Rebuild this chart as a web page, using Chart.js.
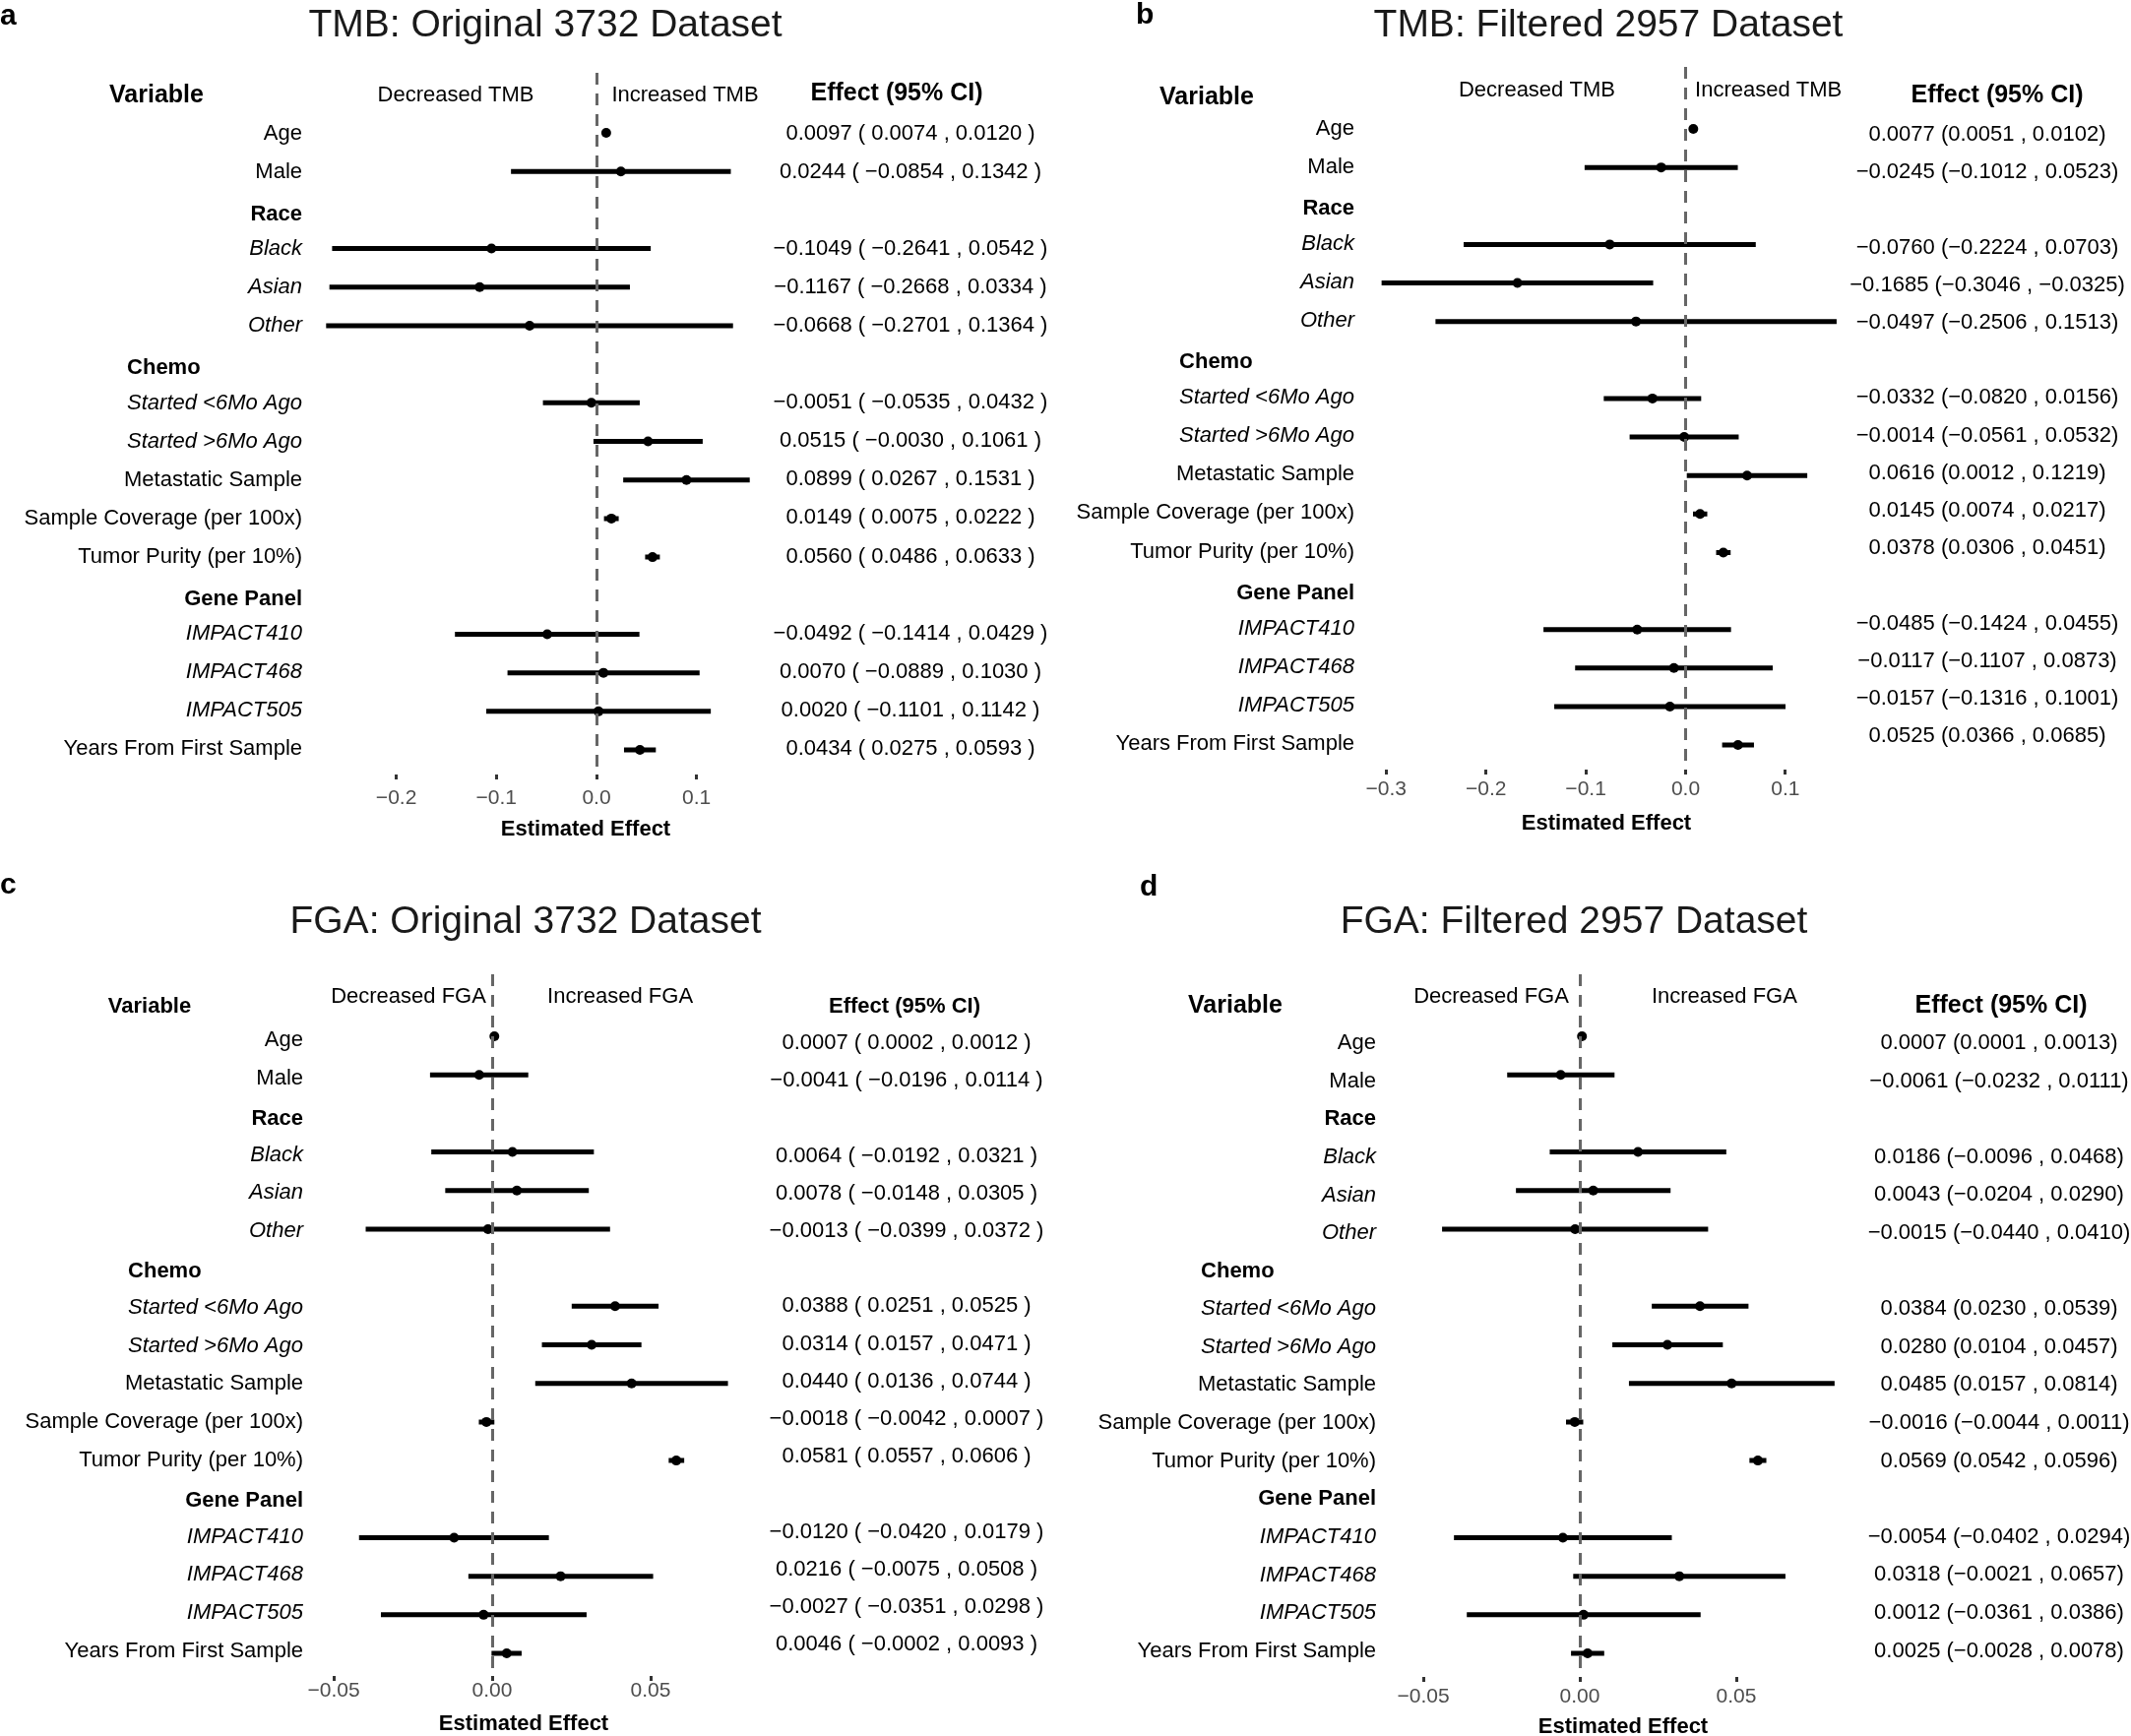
<!DOCTYPE html>
<html>
<head>
<meta charset="utf-8">
<script src="https://cdn.jsdelivr.net/npm/chart.js@4.4.0/dist/chart.umd.min.js"></script>
<style>
html,body{margin:0;padding:0;background:#fff;}
#wrap{position:relative;width:2165px;height:1764px;overflow:hidden;background:#fff;font-family:"Liberation Sans",Arial,Helvetica,sans-serif;}
.panel{position:absolute;}
.panel canvas{position:absolute;left:0;top:0;}
.letter{position:absolute;font-weight:bold;font-size:30px;line-height:1;color:#000;}
.title{position:absolute;font-size:39px;line-height:1;color:#1a1a1a;white-space:nowrap;transform:translateX(-50%);}
</style>
</head>
<body>
<div id="wrap">
  <div class="panel" style="left:0;top:0;width:1082px;height:882px;"><canvas id="cA" width="1082" height="882"></canvas></div>
  <div class="panel" style="left:1082px;top:0;width:1083px;height:882px;"><canvas id="cB" width="1083" height="882"></canvas></div>
  <div class="panel" style="left:0;top:882px;width:1082px;height:882px;"><canvas id="cC" width="1082" height="882"></canvas></div>
  <div class="panel" style="left:1082px;top:882px;width:1083px;height:882px;"><canvas id="cD" width="1083" height="882"></canvas></div>
  <div class="letter" style="left:0px;top:0px;">a</div>
  <div class="letter" style="left:1154px;top:-1px;">b</div>
  <div class="letter" style="left:0px;top:883px;">c</div>
  <div class="letter" style="left:1158px;top:885px;">d</div>
  <div class="title" id="tA" style="left:554px;top:4px;"></div>
  <div class="title" id="tB" style="left:1634px;top:4px;"></div>
  <div class="title" id="tC" style="left:534px;top:915px;"></div>
  <div class="title" id="tD" style="left:1599px;top:915px;"></div>
</div>
<script>
const FONT = '"Liberation Sans", Arial, Helvetica, sans-serif';

// ---------------- DATA ----------------
const rowLabels = ['Age', 'Male', 'Race', 'Black', 'Asian', 'Other', 'Chemo',
  'Started <6Mo Ago', 'Started >6Mo Ago', 'Metastatic Sample',
  'Sample Coverage (per 100x)', 'Tumor Purity (per 10%)', 'Gene Panel',
  'IMPACT410', 'IMPACT468', 'IMPACT505', 'Years From First Sample'];
const rowKinds = ['plain', 'plain', 'group', 'sub', 'sub', 'sub', 'group',
  'sub', 'sub', 'plain', 'plain', 'plain', 'group', 'sub', 'sub', 'sub', 'plain'];

const panelTitles = ['TMB: Original 3732 Dataset', 'TMB: Filtered 2957 Dataset',
  'FGA: Original 3732 Dataset', 'FGA: Filtered 2957 Dataset'];
const tmbDirections = ['Decreased TMB', 'Increased TMB'];
const fgaDirections = ['Decreased FGA', 'Increased FGA'];

// a: TMB original 3732
const tmbOrigEst  = [0.0097, 0.0244, null, -0.1049, -0.1167, -0.0668, null, -0.0051, 0.0515, 0.0899, 0.0149, 0.0560, null, -0.0492, 0.0070, 0.0020, 0.0434];
const tmbOrigLow  = [0.0074, -0.0854, null, -0.2641, -0.2668, -0.2701, null, -0.0535, -0.0030, 0.0267, 0.0075, 0.0486, null, -0.1414, -0.0889, -0.1101, 0.0275];
const tmbOrigHigh = [0.0120, 0.1342, null, 0.0542, 0.0334, 0.1364, null, 0.0432, 0.1061, 0.1531, 0.0222, 0.0633, null, 0.0429, 0.1030, 0.1142, 0.0593];

// b: TMB filtered 2957
const tmbFiltEst  = [0.0077, -0.0245, null, -0.0760, -0.1685, -0.0497, null, -0.0332, -0.0014, 0.0616, 0.0145, 0.0378, null, -0.0485, -0.0117, -0.0157, 0.0525];
const tmbFiltLow  = [0.0051, -0.1012, null, -0.2224, -0.3046, -0.2506, null, -0.0820, -0.0561, 0.0012, 0.0074, 0.0306, null, -0.1424, -0.1107, -0.1316, 0.0366];
const tmbFiltHigh = [0.0102, 0.0523, null, 0.0703, -0.0325, 0.1513, null, 0.0156, 0.0532, 0.1219, 0.0217, 0.0451, null, 0.0455, 0.0873, 0.1001, 0.0685];

// c: FGA original 3732
const fgaOrigEst  = [0.0007, -0.0041, null, 0.0064, 0.0078, -0.0013, null, 0.0388, 0.0314, 0.0440, -0.0018, 0.0581, null, -0.0120, 0.0216, -0.0027, 0.0046];
const fgaOrigLow  = [0.0002, -0.0196, null, -0.0192, -0.0148, -0.0399, null, 0.0251, 0.0157, 0.0136, -0.0042, 0.0557, null, -0.0420, -0.0075, -0.0351, -0.0002];
const fgaOrigHigh = [0.0012, 0.0114, null, 0.0321, 0.0305, 0.0372, null, 0.0525, 0.0471, 0.0744, 0.0007, 0.0606, null, 0.0179, 0.0508, 0.0298, 0.0093];

// d: FGA filtered 2957
const fgaFiltEst  = [0.0007, -0.0061, null, 0.0186, 0.0043, -0.0015, null, 0.0384, 0.0280, 0.0485, -0.0016, 0.0569, null, -0.0054, 0.0318, 0.0012, 0.0025];
const fgaFiltLow  = [0.0001, -0.0232, null, -0.0096, -0.0204, -0.0440, null, 0.0230, 0.0104, 0.0157, -0.0044, 0.0542, null, -0.0402, -0.0021, -0.0361, -0.0028];
const fgaFiltHigh = [0.0013, 0.0111, null, 0.0468, 0.0290, 0.0410, null, 0.0539, 0.0457, 0.0814, 0.0011, 0.0596, null, 0.0294, 0.0657, 0.0386, 0.0078];

const tmbOrigTicks = [-0.2, -0.1, 0.0, 0.1];
const tmbFiltTicks = [-0.3, -0.2, -0.1, 0.0, 0.1];
const fgaTicks = [-0.05, 0.00, 0.05];

// ---------------- LAYOUT (per panel) ----------------
const panels = [
  {canvas:'cA', titleEl:'tA', title:panelTitles[0], est:tmbOrigEst, low:tmbOrigLow, high:tmbOrigHigh, ticks:tmbOrigTicks, dec:1,
   dir:tmbDirections, spaced:true,
   zero:606, ppu:1017, center:595, half:280, top:74, bottom:787, y0:135, rowH:39.19,
   labY0:136, labRowH:39.06, groupShift:4, effY0:136, effRowH:39.04,
   tickPad:7, titlePadB:26, labelRight:307, effC:925, headSize:25,
   varX:159, varY:97, effX:911, effY:95, dirY:97, decAt:-0.1406, incAt:0.0885},
  {canvas:'cB', titleEl:'tB', title:panelTitles[1], est:tmbFiltEst, low:tmbFiltLow, high:tmbFiltHigh, ticks:tmbFiltTicks, dec:1,
   dir:tmbDirections, spaced:false,
   zero:630.5, ppu:1014, center:550, half:240, top:68, bottom:782, y0:131, rowH:39.13,
   labY0:131, labRowH:39.04, groupShift:3, effY0:137, effRowH:38.19,
   tickPad:3, titlePadB:32, labelRight:294, effC:937, headSize:25,
   varX:144, varY:99, effX:947, effY:97, dirY:92, decAt:-0.149, incAt:0.083},
  {canvas:'cC', titleEl:'tC', title:panelTitles[2], est:fgaOrigEst, low:fgaOrigLow, high:fgaOrigHigh, ticks:fgaTicks, dec:2,
   dir:fgaDirections, spaced:true,
   zero:500, ppu:3220, center:532, half:220, top:108, bottom:821, y0:171, rowH:39.19,
   labY0:175, labRowH:38.8, groupShift:2, effY0:178, effRowH:38.19,
   tickPad:-2, titlePadB:-1, labelRight:308, effC:921, headSize:22,
   varX:152, varY:141, effX:919, effY:141, dirY:131, decAt:-0.0264, incAt:0.0404},
  {canvas:'cD', titleEl:'tD', title:panelTitles[3], est:fgaFiltEst, low:fgaFiltLow, high:fgaFiltHigh, ticks:fgaTicks, dec:2,
   dir:fgaDirections, spaced:false,
   zero:523, ppu:3180, center:567, half:225, top:108, bottom:822, y0:171, rowH:39.19,
   labY0:178, labRowH:38.6, groupShift:0, effY0:178, effRowH:38.6,
   tickPad:3, titlePadB:-4, labelRight:316, effC:949, headSize:25,
   varX:173, varY:140, effX:951, effY:140, dirY:131, decAt:-0.0283, incAt:0.0462}
];

const MINUS = '\u2212';
function fmt(v, d) {
  const s = Math.abs(v).toFixed(d);
  return (v < 0 && Number(s) !== 0 ? MINUS : '') + s;
}
function effectText(p, i) {
  const e = fmt(p.est[i], 4), l = fmt(p.low[i], 4), h = fmt(p.high[i], 4);
  return p.spaced ? `${e} ( ${l} , ${h} )` : `${e} (${l} , ${h})`;
}

function makeTextPlugin(p) {
  return {
    id: 'forestText',
    afterDraw(chart) {
      const ctx = chart.ctx, xs = chart.scales.x;
      ctx.save();
      ctx.fillStyle = '#000';
      ctx.textBaseline = 'middle';
      ctx.textAlign = 'center';
      ctx.font = `bold ${p.headSize}px ${FONT}`;
      ctx.fillText('Variable', p.varX, p.varY);
      ctx.fillText('Effect (95% CI)', p.effX, p.effY);
      ctx.font = `22px ${FONT}`;
      ctx.fillText(p.dir[0], xs.getPixelForValue(p.decAt), p.dirY);
      ctx.fillText(p.dir[1], xs.getPixelForValue(p.incAt), p.dirY);
      rowLabels.forEach((lab, i) => {
        const kind = rowKinds[i];
        let y = p.labY0 + i * p.labRowH;
        let x = p.labelRight;
        if (kind === 'group') {
          y += p.groupShift;
          ctx.font = `bold 22px ${FONT}`;
          if (lab === 'Chemo') {
            ctx.save();
            ctx.font = `italic 22px ${FONT}`;
            const w = ctx.measureText(rowLabels[i + 1]).width;
            ctx.restore();
            ctx.textAlign = 'left';
            x = p.labelRight - w;
          } else {
            ctx.textAlign = 'right';
          }
        } else {
          ctx.font = (kind === 'sub' ? 'italic ' : '') + `22px ${FONT}`;
          ctx.textAlign = 'right';
        }
        ctx.fillText(lab, x, y);
        if (kind !== 'group' && p.est[i] !== null) {
          ctx.font = `22px ${FONT}`;
          ctx.textAlign = 'center';
          ctx.fillText(effectText(p, i), p.effC, p.effY0 + i * p.effRowH);
        }
      });
      ctx.restore();
    }
  };
}

Chart.defaults.font.family = FONT;

panels.forEach(p => {
  document.getElementById(p.titleEl).textContent = p.title;
  const canvas = document.getElementById(p.canvas);
  const W = canvas.width, H = canvas.height;
  const L = p.center - p.half, R = p.center + p.half;
  const xMin = (L - p.zero) / p.ppu, xMax = (R - p.zero) / p.ppu;
  const yMin = -(p.y0 - p.top) / p.rowH, yMax = (p.bottom - p.y0) / p.rowH;

  const ciPts = [];
  const estPts = [];
  p.est.forEach((e, i) => {
    if (e === null) return;
    ciPts.push({x: p.low[i], y: i}, {x: p.high[i], y: i}, {x: null, y: null});
    estPts.push({x: e, y: i});
  });

  new Chart(canvas, {
    type: 'scatter',
    data: {
      datasets: [
        {data: ciPts, showLine: true, spanGaps: false, borderColor: '#000', borderWidth: 5,
         borderCapStyle: 'butt', pointRadius: 0, pointHoverRadius: 0, fill: false},
        {data: estPts, pointRadius: 5, pointHoverRadius: 5, pointBackgroundColor: '#000',
         pointBorderColor: '#000', pointBorderWidth: 0}
      ]
    },
    options: {
      responsive: false, animation: false, devicePixelRatio: 1, events: [],
      layout: {padding: {left: L, right: W - R, top: p.top, bottom: 0}},
      plugins: {legend: {display: false}, tooltip: {enabled: false}, title: {display: false}},
      scales: {
        x: {
          type: 'linear', min: xMin, max: xMax, bounds: 'data',
          afterBuildTicks: s => { s.ticks = p.ticks.map(v => ({value: v})); },
          afterFit: s => { s.height = H - p.bottom; },
          grid: {
            drawOnChartArea: true, drawTicks: true, tickLength: 5, tickWidth: 3, tickColor: '#333',
            lineWidth: 3, z: 1,
            color: c => (c.tick && Math.abs(c.tick.value) < 1e-12) ? '#666666' : 'rgba(0,0,0,0)'
          },
          border: {display: false, dash: [12, 9]},
          ticks: {
            color: '#4d4d4d', font: {size: 21}, padding: p.tickPad, maxRotation: 0, autoSkip: false,
            callback: v => fmt(v, p.dec)
          },
          title: {display: true, text: 'Estimated Effect', color: '#000',
                  font: {size: 22, weight: 'bold'}, padding: {top: 0, bottom: p.titlePadB}}
        },
        y: {type: 'linear', reverse: true, min: yMin, max: yMax, bounds: 'data', display: false}
      }
    },
    plugins: [makeTextPlugin(p)]
  });
});
</script>
</body>
</html>
